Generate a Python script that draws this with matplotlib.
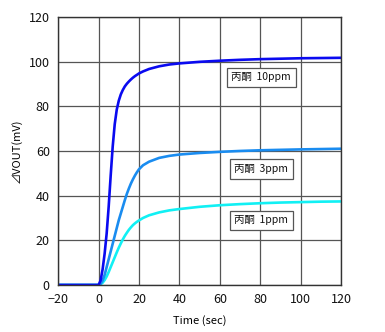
import matplotlib
matplotlib.use("Agg")
import matplotlib.pyplot as plt

plt.rcParams['font.family'] = ['Noto Sans CJK JP', 'DejaVu Sans']

# sensor response to acetone (丙酮)
t_10 = [-20, 0, 1, 2, 3, 4, 5, 6, 7, 8, 9, 10, 11, 12, 13, 14, 15, 16, 17, 18, 19, 20,
        22, 25, 30, 35, 40, 50, 60, 70, 80, 90, 100, 110, 120]
v_10 = [0, 0, 2, 7, 14, 23, 35, 49, 62, 72, 78.5, 82.5, 85.3, 87.3, 88.9, 90.1, 91.1,
        92, 92.8, 93.5, 94.1, 94.7, 95.6, 96.7, 97.9, 98.7, 99.2, 99.9, 100.4, 100.8,
        101.1, 101.3, 101.5, 101.6, 101.7]

t_3 = [-20, 0, 1, 2, 3, 4, 5, 6, 7, 8, 9, 10, 11, 12, 13, 14, 15, 16, 17, 18, 19, 20,
       22, 25, 30, 35, 40, 50, 60, 70, 80, 90, 100, 110, 120]
v_3 = [0, 0, 0.5, 2, 4.5, 8, 11.5, 15, 18.5, 22, 25.5, 29, 32, 35, 38, 40.8, 43.2,
       45.4, 47.3, 49, 50.5, 51.8, 53.6, 55.2, 56.9, 57.8, 58.4, 59.1, 59.6, 60,
       60.3, 60.5, 60.7, 60.85, 61]

t_1 = [-20, 0, 1, 2, 3, 4, 5, 6, 7, 8, 9, 10, 11, 12, 13, 14, 15, 16, 17, 18, 19, 20,
       22, 25, 30, 35, 40, 50, 60, 70, 80, 90, 100, 110, 120]
v_1 = [0, 0, 0.3, 1, 2.2, 3.8, 5.8, 8, 10.2, 12.4, 14.6, 16.7, 18.6, 20.4, 22, 23.4,
       24.7, 25.8, 26.8, 27.6, 28.3, 28.9, 30, 31.2, 32.5, 33.4, 34, 35, 35.7, 36.2,
       36.6, 36.9, 37.1, 37.3, 37.4]

labels = ["丙酮  1ppm", "丙酮  3ppm", "丙酮  10ppm"]
label_pos = [(80.5, 29), (80.5, 52), (80.5, 93)]

fig = plt.figure(figsize=(3.85, 3.32), dpi=100)
ax = fig.add_axes([0.151, 0.1416, 0.735, 0.8074])

line_kw = dict(lw=1.9, solid_joinstyle='round', solid_capstyle='round')
ax.plot(t_1, v_1, color='#11F0F4', **line_kw)
ax.plot(t_3, v_3, color='#1A8CF0', **line_kw)
ax.plot(t_10, v_10, color='#0A0AF0', **line_kw)

for txt, (x, y) in zip(labels, label_pos):
    ax.text(x, y, txt, ha='center', va='center', fontsize=7.5, color='#111111',
            bbox=dict(boxstyle='square,pad=0.45', fc='white', ec='#555555', lw=0.9))

ax.set_xlim(-20, 120)
ax.set_ylim(0, 120)
ax.set_xticks(range(-20, 121, 20))
ax.set_yticks(range(0, 121, 20))
ax.set_xticklabels(['−20'] + [str(v) for v in range(0, 121, 20)])
ax.grid(True, color='#555555', lw=0.9)
ax.set_axisbelow(True)
ax.tick_params(length=0, labelsize=9, pad=6, colors='#111111')
for s in ax.spines.values():
    s.set_color('#333333')
    s.set_linewidth(1.0)

ax.set_xlabel('Time (sec)', fontsize=8, labelpad=6)
ax.set_ylabel('⊿VOUT(mV)', fontsize=8, labelpad=5)

fig.savefig('out.png', dpi=100)
